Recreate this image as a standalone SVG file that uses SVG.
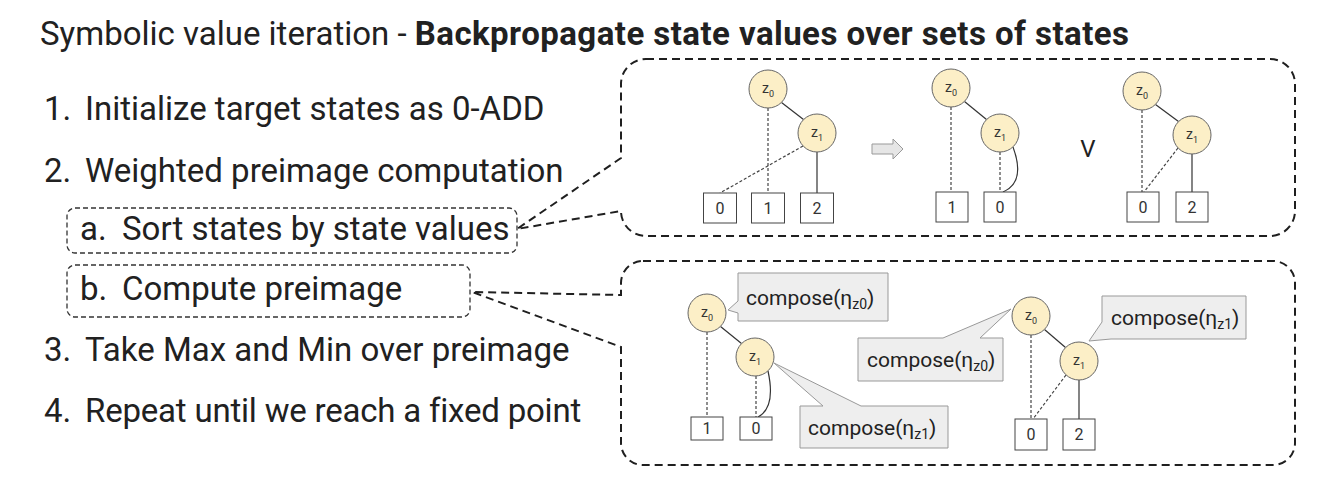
<svg xmlns="http://www.w3.org/2000/svg" width="1317" height="490" viewBox="0 0 1317 490">
<style>
text{font-family:Roboto,"Liberation Sans",sans-serif;fill:#212121}
.title{font-size:33px}
.item{font-size:33px}
.callout{fill:none;stroke:#1f1f1f;stroke-width:2;stroke-dasharray:8 5}
.sub{fill:none;stroke:#333;stroke-width:1.3;stroke-dasharray:5 3}
.var{fill:#fcefc7;stroke:#666;stroke-width:1}
.vl{font-size:14px;fill:#333}
.vs{font-size:9px;fill:#333}
.leaf{fill:#fff;stroke:#444;stroke-width:1}
.ll{font-size:16px;fill:#333;text-anchor:middle}
.solid{stroke:#333;stroke-width:1.2;fill:none}
.dash{stroke:#444;stroke-width:1.2;fill:none;stroke-dasharray:3 2}
.tip{fill:#eeeeee;stroke:#999;stroke-width:1}
.tt{font-size:21px;fill:#222}
.ts{font-size:14px;fill:#222}
</style>

<text class="title" x="40" y="45">Symbolic value iteration - <tspan font-weight="bold" letter-spacing="0.45">Backpropagate state values over sets of states</tspan></text>

<g id="list">
<text class="item" x="44" y="120">1.</text><text class="item" x="85" y="120">Initialize target states as 0-ADD</text>
<text class="item" x="44" y="182">2.</text><text class="item" x="85" y="182">Weighted preimage computation</text>
<text class="item" x="80" y="240">a.</text><text class="item" x="122" y="240">Sort states by state values</text>
<text class="item" x="80" y="300">b.</text><text class="item" x="122" y="300">Compute preimage</text>
<text class="item" x="44" y="361">3.</text><text class="item" x="85" y="361">Take Max and Min over preimage</text>
<text class="item" x="44" y="422">4.</text><text class="item" x="85" y="422" letter-spacing="-0.2">Repeat until we reach a fixed point</text>
</g>

<g id="box-a"><rect class="sub" x="67" y="208" width="450" height="45" rx="8"/></g>
<g id="box-b"><rect class="sub" x="67" y="265" width="403" height="52" rx="8"/></g>

<g id="callout-top"><path class="callout" d="M646,59 H1270 A25,25 0 0 1 1295,84 V211 A25,25 0 0 1 1270,236 H646 A25,25 0 0 1 621,211 L517,229 L621,158 V84 A25,25 0 0 1 646,59 Z"/></g>
<g id="callout-bottom"><path class="callout" d="M643,261 H1273 A22,22 0 0 1 1295,283 V443 A22,22 0 0 1 1273,465 H643 A22,22 0 0 1 621,443 V347 L472,292 L621,295 V283 A22,22 0 0 1 643,261 Z"/></g>

<g id="connectors">
<line class="solid" x1="781.5" y1="102.5" x2="803.5" y2="119.5"/>
<line class="dash" x1="768" y1="108" x2="768" y2="193"/>
<line class="dash" x1="803" y1="146" x2="720" y2="193"/>
<line class="solid" x1="817" y1="152" x2="817" y2="193"/>

<line class="solid" x1="964.5" y1="101.5" x2="986.5" y2="119.5"/>
<line class="dash" x1="951" y1="107" x2="951" y2="192"/>
<line class="dash" x1="1000" y1="152" x2="1000" y2="192"/>
<path class="solid" d="M1013,147 Q1026,182 1003,192"/>

<line class="solid" x1="1155.5" y1="104.5" x2="1178.5" y2="121.5"/>
<line class="dash" x1="1142" y1="110" x2="1142" y2="192"/>
<line class="dash" x1="1178" y1="148" x2="1144" y2="192"/>
<line class="solid" x1="1192" y1="154" x2="1192" y2="192"/>

<line class="solid" x1="720.5" y1="326.5" x2="741.5" y2="343.5"/>
<line class="dash" x1="707" y1="332" x2="707" y2="417"/>
<line class="dash" x1="756" y1="376" x2="756" y2="417"/>
<path class="solid" d="M768,371 Q776,408 758,417"/>

<line class="solid" x1="1044.5" y1="329.5" x2="1065.5" y2="347.5"/>
<line class="dash" x1="1031" y1="335" x2="1031" y2="419"/>
<line class="dash" x1="1066" y1="375" x2="1033" y2="419"/>
<line class="solid" x1="1079" y1="380" x2="1079" y2="419"/>
</g>

<g id="arrow"><polygon points="872,144 893,144 893,139 903,149 893,159 893,154 872,154" fill="#e6e6e6" stroke="#999" stroke-width="1"/></g>
<g id="or"><text x="1088" y="157" font-size="24" text-anchor="middle" fill="#333">V</text></g>

<g id="t1-z0"><circle class="var" cx="768" cy="89" r="19"/><text class="vl" x="762" y="93">z<tspan class="vs" dy="4">0</tspan></text></g>
<g id="t1-z1"><circle class="var" cx="817" cy="133" r="19"/><text class="vl" x="811" y="137">z<tspan class="vs" dy="4">1</tspan></text></g>
<g id="t1-l0"><rect class="leaf" x="703.5" y="193" width="33" height="30"/><text class="ll" x="720" y="214">0</text></g>
<g id="t1-l1"><rect class="leaf" x="751.5" y="193" width="33" height="30"/><text class="ll" x="768" y="214">1</text></g>
<g id="t1-l2"><rect class="leaf" x="800.5" y="193" width="33" height="30"/><text class="ll" x="817" y="214">2</text></g>

<g id="t2-z0"><circle class="var" cx="951" cy="88" r="19"/><text class="vl" x="945" y="92">z<tspan class="vs" dy="4">0</tspan></text></g>
<g id="t2-z1"><circle class="var" cx="1000" cy="133" r="19"/><text class="vl" x="994" y="137">z<tspan class="vs" dy="4">1</tspan></text></g>
<g id="t2-l1"><rect class="leaf" x="936" y="192" width="32" height="30"/><text class="ll" x="952" y="213">1</text></g>
<g id="t2-l0"><rect class="leaf" x="984" y="192" width="32" height="30"/><text class="ll" x="1000" y="213">0</text></g>

<g id="t3-z0"><circle class="var" cx="1142" cy="91" r="19"/><text class="vl" x="1136" y="95">z<tspan class="vs" dy="4">0</tspan></text></g>
<g id="t3-z1"><circle class="var" cx="1192" cy="135" r="19"/><text class="vl" x="1186" y="139">z<tspan class="vs" dy="4">1</tspan></text></g>
<g id="t3-l0"><rect class="leaf" x="1127" y="192" width="32" height="30"/><text class="ll" x="1143" y="213">0</text></g>
<g id="t3-l2"><rect class="leaf" x="1176" y="192" width="32" height="30"/><text class="ll" x="1192" y="213">2</text></g>

<g id="b1-z0"><circle class="var" cx="707" cy="313" r="19"/><text class="vl" x="701" y="317">z<tspan class="vs" dy="4">0</tspan></text></g>
<g id="b1-z1"><circle class="var" cx="755" cy="357" r="19"/><text class="vl" x="749" y="361">z<tspan class="vs" dy="4">1</tspan></text></g>
<g id="b1-l1"><rect class="leaf" x="691" y="417" width="32" height="23"/><text class="ll" x="707" y="434">1</text></g>
<g id="b1-l0"><rect class="leaf" x="740" y="417" width="32" height="23"/><text class="ll" x="756" y="434">0</text></g>

<g id="b2-z0"><circle class="var" cx="1031" cy="316" r="19"/><text class="vl" x="1025" y="320">z<tspan class="vs" dy="4">0</tspan></text></g>
<g id="b2-z1"><circle class="var" cx="1079" cy="361" r="19"/><text class="vl" x="1073" y="365">z<tspan class="vs" dy="4">1</tspan></text></g>
<g id="b2-l0"><rect class="leaf" x="1015" y="419" width="32" height="31"/><text class="ll" x="1031" y="440">0</text></g>
<g id="b2-l2"><rect class="leaf" x="1063" y="419" width="32" height="31"/><text class="ll" x="1079" y="440">2</text></g>

<g id="cmp-a"><path class="tip" d="M738,273 H888 V321 H738 V313 L728,310 L738,301 Z"/><text class="tt" x="746" y="305">compose(η<tspan class="ts" dy="4">z0</tspan><tspan dy="-4">)</tspan></text></g>
<g id="cmp-b"><path class="tip" d="M800,406 H823 L774,363 L861,406 H948 V448 H800 Z"/><text class="tt" x="808" y="435">compose(η<tspan class="ts" dy="4">z1</tspan><tspan dy="-4">)</tspan></text></g>
<g id="cmp-c"><path class="tip" d="M858,338 H943 L1011,309 L980,338 H1003 V381 H858 Z"/><text class="tt" x="867" y="367">compose(η<tspan class="ts" dy="4">z0</tspan><tspan dy="-4">)</tspan></text></g>
<g id="cmp-d"><path class="tip" d="M1102,296 H1246 V339 H1111 L1089,341 L1102,322 Z"/><text class="tt" x="1111" y="325">compose(η<tspan class="ts" dy="4">z1</tspan><tspan dy="-4">)</tspan></text></g>
</svg>
